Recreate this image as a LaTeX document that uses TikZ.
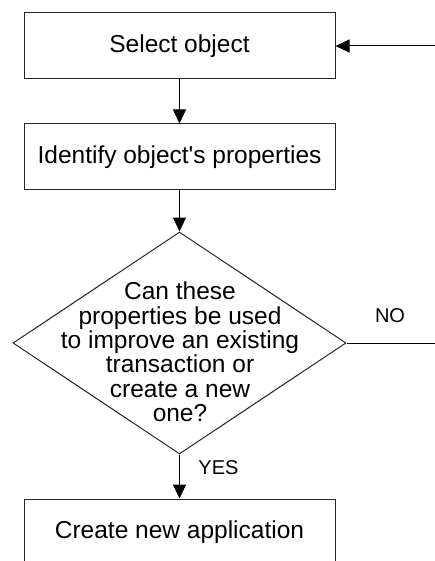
\documentclass[tikz,border=0pt]{standalone}
\usepackage{fontspec}
\setmainfont{Liberation Sans}
\usetikzlibrary{shapes.geometric,arrows.meta}
\begin{document}
\begin{tikzpicture}[x=1pt,y=-1pt,
  stepbox/.style={draw=black!85,line width=1pt,rectangle,minimum width=311pt,minimum height=66pt,inner sep=0pt,font=\fontsize{24.5}{24.4}\selectfont},
  decision/.style={draw=black!85,line width=1pt,diamond,minimum width=333pt,minimum height=222pt,inner sep=0pt},
  dtext/.style={align=center,inner sep=0pt,font=\fontsize{24.5}{24.4}\selectfont},
  lbl/.style={inner sep=0pt,font=\fontsize{20}{20}\selectfont},
  conn/.style={draw=black,line width=1pt,-{Triangle[length=14pt,width=13pt]}},
  plain/.style={draw=black,line width=1pt}]
\useasboundingbox (0,0) rectangle (435,561);
\node[stepbox] (b1) at (179.5,46) {Select object};
\node[stepbox] (b2) at (179.5,157) {Identify object\textquotesingle s properties};
\node[decision] (d) at (179.5,343) {};
\node[dtext] (dt) at (180,352) {Can these\\properties be used\\to improve an existing\\transaction or\\create a new\\one?};
\node[stepbox] (b3) at (179.5,532) {Create new application};
\coordinate (r1) at (436,46);
\coordinate (r2) at (436,343);
\node[lbl] (no) at (390,315.5) {NO};
\node[lbl] (yes) at (218.5,467.5) {YES};
\draw[conn] (b1.south) -- (b2.north);
\draw[conn] (b2.south) -- (d.north);
\draw[conn] (d.south) -- (b3.north);
\draw[conn] (r1) -- (b1.east);
\draw[plain] (d.east) -- (r2);
\end{tikzpicture}
\end{document}
